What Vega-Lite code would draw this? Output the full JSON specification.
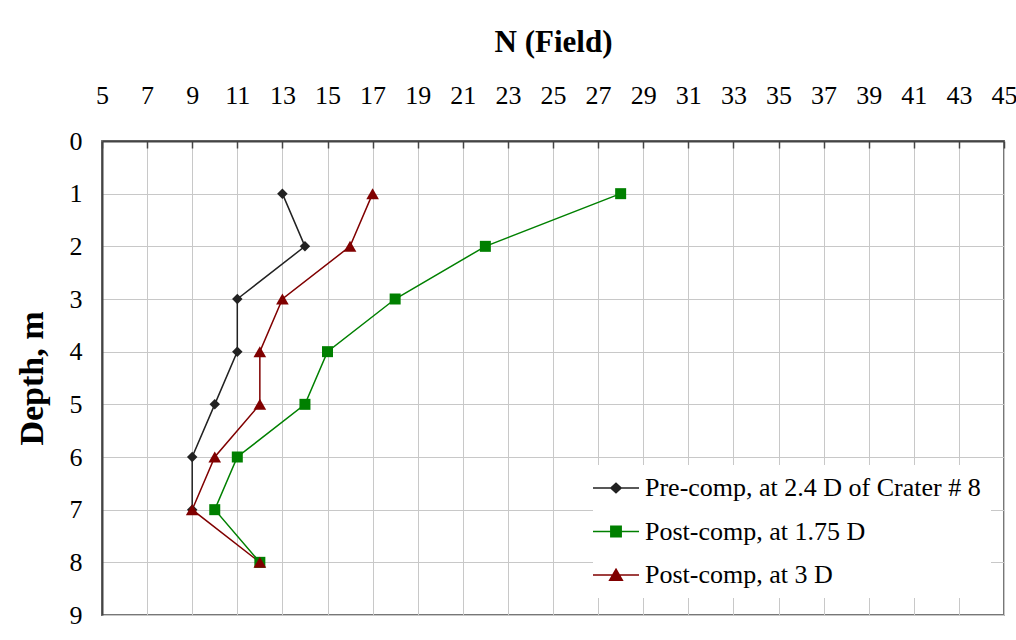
{
  "$schema": "https://vega.github.io/schema/vega-lite/v6.json",
  "width": 902,
  "height": 474,
  "autosize": {"type": "none"},
  "padding": {"left": 102, "top": 141, "right": 12, "bottom": 25},
  "background": "white",
  "config": {
    "font": "Liberation Serif",
    "view": {"stroke": "#777777", "strokeWidth": 2}
  },
  "data": {
    "values": [
      {"series": "Pre-comp, at 2.4 D of Crater # 8", "N": 13, "depth": 1},
      {"series": "Pre-comp, at 2.4 D of Crater # 8", "N": 14, "depth": 2},
      {"series": "Pre-comp, at 2.4 D of Crater # 8", "N": 11, "depth": 3},
      {"series": "Pre-comp, at 2.4 D of Crater # 8", "N": 11, "depth": 4},
      {"series": "Pre-comp, at 2.4 D of Crater # 8", "N": 10, "depth": 5},
      {"series": "Pre-comp, at 2.4 D of Crater # 8", "N": 9, "depth": 6},
      {"series": "Pre-comp, at 2.4 D of Crater # 8", "N": 9, "depth": 7},
      {"series": "Post-comp, at 1.75 D", "N": 28, "depth": 1},
      {"series": "Post-comp, at 1.75 D", "N": 22, "depth": 2},
      {"series": "Post-comp, at 1.75 D", "N": 18, "depth": 3},
      {"series": "Post-comp, at 1.75 D", "N": 15, "depth": 4},
      {"series": "Post-comp, at 1.75 D", "N": 14, "depth": 5},
      {"series": "Post-comp, at 1.75 D", "N": 11, "depth": 6},
      {"series": "Post-comp, at 1.75 D", "N": 10, "depth": 7},
      {"series": "Post-comp, at 1.75 D", "N": 12, "depth": 8},
      {"series": "Post-comp, at 3 D", "N": 17, "depth": 1},
      {"series": "Post-comp, at 3 D", "N": 16, "depth": 2},
      {"series": "Post-comp, at 3 D", "N": 13, "depth": 3},
      {"series": "Post-comp, at 3 D", "N": 12, "depth": 4},
      {"series": "Post-comp, at 3 D", "N": 12, "depth": 5},
      {"series": "Post-comp, at 3 D", "N": 10, "depth": 6},
      {"series": "Post-comp, at 3 D", "N": 9, "depth": 7},
      {"series": "Post-comp, at 3 D", "N": 12, "depth": 8}
    ]
  },
  "encoding": {
    "x": {
      "field": "N",
      "type": "quantitative",
      "scale": {"domain": [5, 45], "nice": false, "zero": false},
      "axis": {
        "orient": "top",
        "title": "N (Field)",
        "values": [5,7,9,11,13,15,17,19,21,23,25,27,29,31,33,35,37,39,41,43,45],
        "grid": true,
        "gridColor": "#c8c8c8",
        "gridWidth": 1,
        "domainColor": "#444444",
        "domainWidth": 2,
        "tickColor": "#444444",
        "tickWidth": 1.5,
        "tickSize": -7,
        "labelFontSize": 26,
        "labelColor": "#000000",
        "labelPadding": 40,
        "labelFlush": false,
        "labelOverlap": false,
        "titleFontSize": 31,
        "titleFontWeight": "bold",
        "titleColor": "#000000",
        "titlePadding": 24
      }
    },
    "y": {
      "field": "depth",
      "type": "quantitative",
      "scale": {"domain": [0, 9], "reverse": true, "nice": false},
      "axis": {
        "title": "Depth, m",
        "values": [0,1,2,3,4,5,6,7,8,9],
        "grid": true,
        "gridColor": "#c8c8c8",
        "gridWidth": 1,
        "ticks": false,
        "domainColor": "#444444",
        "domainWidth": 2,
        "labelFontSize": 26,
        "labelColor": "#000000",
        "labelPadding": 20,
        "titleFontSize": 34,
        "titleFontWeight": "bold",
        "titleColor": "#000000",
        "titlePadding": 20
      }
    },
    "color": {
      "field": "series",
      "type": "nominal",
      "scale": {
        "domain": ["Pre-comp, at 2.4 D of Crater # 8", "Post-comp, at 1.75 D", "Post-comp, at 3 D"],
        "range": ["#222222", "#008000", "#800000"]
      },
      "legend": {
        "title": null,
        "orient": "none",
        "legendX": 491,
        "legendY": 324,
        "fillColor": "white",
        "padding": 10,
        "symbolSize": 529,
        "symbolStrokeWidth": 1.5,
        "labelFontSize": 26,
        "labelColor": "#000000",
        "labelOffset": 16,
        "rowPadding": 17.5,
        "labelLimit": 500,
        "encode": {
          "symbols": {
            "update": {
              "shape": {"signal": "datum.value === 'Pre-comp, at 2.4 D of Crater # 8' ? 'M-2,0L2,0M-0.45,0L0,-0.42L0.45,0L0,0.42Z' : datum.value === 'Post-comp, at 1.75 D' ? 'M-2,0L2,0M-0.45,-0.45L0.45,-0.45L0.45,0.45L-0.45,0.45Z' : 'M-2,0L2,0M0,-0.5L0.55,0.45L-0.55,0.45Z'"},
              "stroke": {"signal": "datum.value === 'Pre-comp, at 2.4 D of Crater # 8' ? '#222222' : datum.value === 'Post-comp, at 1.75 D' ? '#008000' : '#800000'"},
              "fill": {"signal": "datum.value === 'Pre-comp, at 2.4 D of Crater # 8' ? '#000000' : datum.value === 'Post-comp, at 1.75 D' ? '#008000' : '#800000'"},
              "opacity": {"value": 1},
              "fillOpacity": {"value": 1},
              "strokeWidth": {"value": 1.5},
              "size": {"value": 529}
            }
          }
        }
      }
    }
  },
  "layer": [
    {
      "mark": {"type": "line", "strokeWidth": 1.5},
      "encoding": {"order": {"field": "depth", "type": "quantitative"}}
    },
    {
      "transform": [{"filter": "datum.series === 'Pre-comp, at 2.4 D of Crater # 8'"}],
      "mark": {"type": "point", "filled": true, "opacity": 1, "shape": "diamond", "size": 110}
    },
    {
      "transform": [{"filter": "datum.series === 'Post-comp, at 1.75 D'"}],
      "mark": {"type": "point", "filled": true, "opacity": 1, "shape": "square", "size": 121}
    },
    {
      "transform": [{"filter": "datum.series === 'Post-comp, at 3 D'"}],
      "mark": {"type": "point", "filled": true, "opacity": 1, "shape": "triangle-up", "size": 160}
    }
  ]
}
